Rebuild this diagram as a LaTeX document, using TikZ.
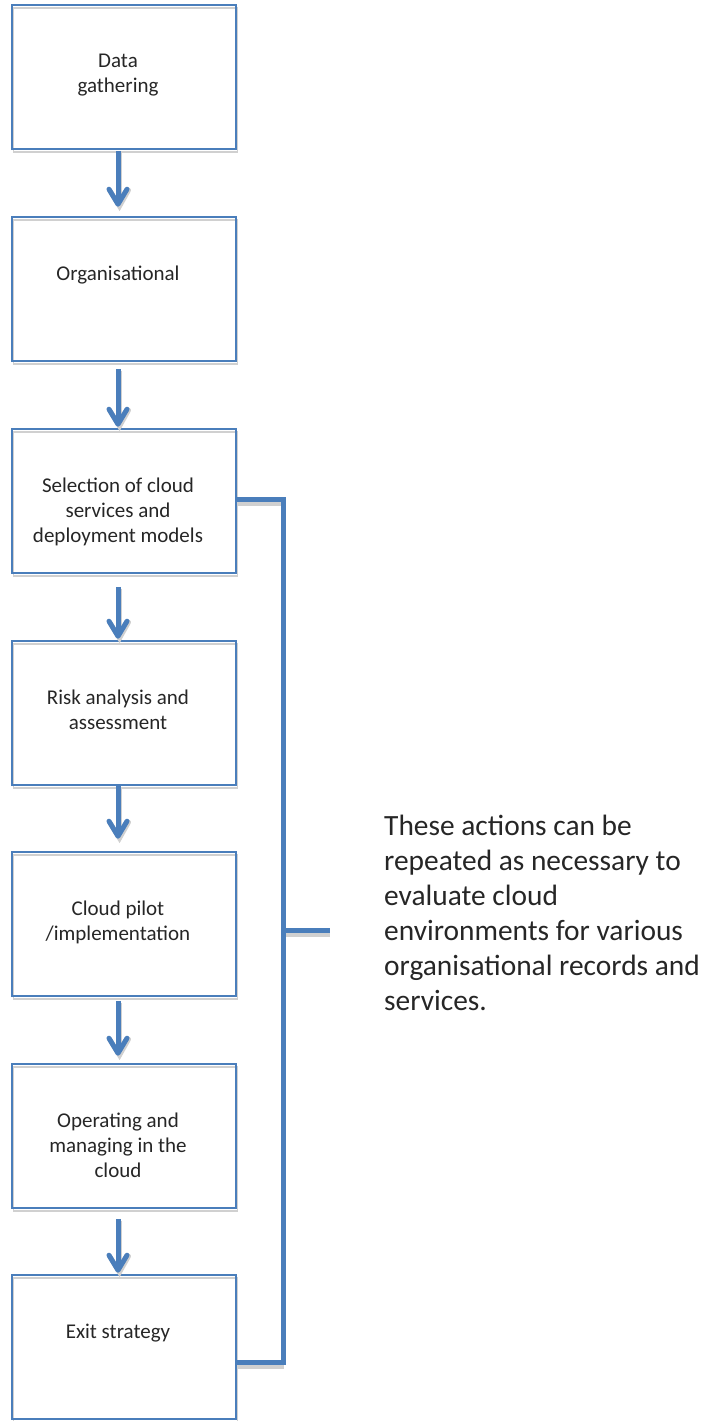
\documentclass[tikz,border=0pt]{standalone}
\usepackage{fontspec}
\setmainfont{Carlito}
\usetikzlibrary{calc}
\definecolor{oblue}{RGB}{74,126,187}
\definecolor{shad}{RGB}{208,208,208}
\definecolor{txt}{RGB}{38,38,38}
\begin{document}
\begin{tikzpicture}[x=1pt,y=-1pt,
  box/.style={draw=oblue,line width=1.6pt,minimum width=224pt,minimum height=144pt,inner sep=0pt,
    preaction={draw=shad,line width=1.6pt,transform canvas={xshift=1.5pt,yshift=-3pt}}},
  lbl/.style={anchor=north,inner sep=0pt,align=center,text=txt,font=\fontsize{21}{25}\selectfont},
  side/.style={anchor=north west,inner sep=0pt,align=left,text=txt,font=\fontsize{29.4}{35}\selectfont},
  shaft/.style={draw=oblue,line width=5pt},
  chev/.style={draw=oblue,line width=5pt,line cap=round,line join=round},
  shadline/.style={draw=shad,line width=5pt},
  brk/.style={draw=oblue,line width=5pt,line join=miter},
  brkshad/.style={draw=shad,line width=5pt}]
\useasboundingbox (0,0) rectangle (705,1421);

% boxes
\node[box] (b1) at (124,77) {};
\node[box] (b2) at (124,289) {};
\node[box] (b3) at (124,501) {};
\node[box] (b4) at (124,713) {};
\node[box] (b5) at (124,924) {};
\node[box] (b6) at (124,1136) {};
\node[box] (b7) at (124,1347) {};

% box texts
\node[lbl] (t1) at ($(b1.north)+(-6,50)$) {Data\\gathering};
\node[lbl] (t2) at ($(b2.north)+(-6,50)$) {Organisational};
\node[lbl] (t3) at ($(b3.north)+(-6,50)$) {Selection of cloud\\services and\\deployment models};
\node[lbl] (t4) at ($(b4.north)+(-6,50)$) {Risk analysis and\\assessment};
\node[lbl] (t5) at ($(b5.north)+(-6,50)$) {Cloud pilot\\/implementation};
\node[lbl] (t6) at ($(b6.north)+(-6,50)$) {Operating and\\managing in the\\cloud};
\node[lbl] (t7) at ($(b7.north)+(-6,50)$) {Exit strategy};

% arrows
\foreach \i/\a/\b/\s/\e in {1/b1/b2/1/12, 2/b2/b3/7/4, 3/b3/b4/13/4, 4/b4/b5/0/15, 5/b5/b6/4/10, 6/b6/b7/10/4}{
  \coordinate (s\i) at ($(\a.south)+(-6,\s)$);
  \coordinate (e\i) at ($(\b.north)+(-6,-\e)$);
  \draw[shadline] ($(s\i)+(1.5,2)$) -- ($(e\i)+(1.5,2)$);
  \draw[shadline,line cap=round] ($(e\i)+(-8.5,-14)$) -- ($(e\i)+(1.5,2)$) -- ($(e\i)+(10.5,-14)$);
  \draw[shaft] (s\i) -- (e\i);
  \draw[chev] ($(e\i)+(-9,-15)$) -- (e\i) -- ($(e\i)+(9,-15)$);
}

% bracket
\coordinate (k1) at ($(b3.east)+(0,-2)$);
\coordinate (k2) at ($(b7.east)+(0,15)$);
\coordinate (kv) at (283,930);
\draw[brkshad] ($(k1)+(0,4)$) -- ($(k1)+(47,4)$);
\draw[brkshad] ($(k2)+(0,4)$) -- ($(k2)+(47,4)$);
\draw[brkshad] ($(kv)+(0,4)$) -- ($(kv)+(47,4)$);
\draw[brk] (k1) -- ++(47,0) |- (k2);
\draw[brk] (kv) -- ++(47,0) coordinate (kend);

% side text
\node[side] (t8) at (384,815) {These actions can be\\repeated as necessary to\\evaluate cloud\\environments for various\\organisational records and\\services.};
\end{tikzpicture}
\end{document}
